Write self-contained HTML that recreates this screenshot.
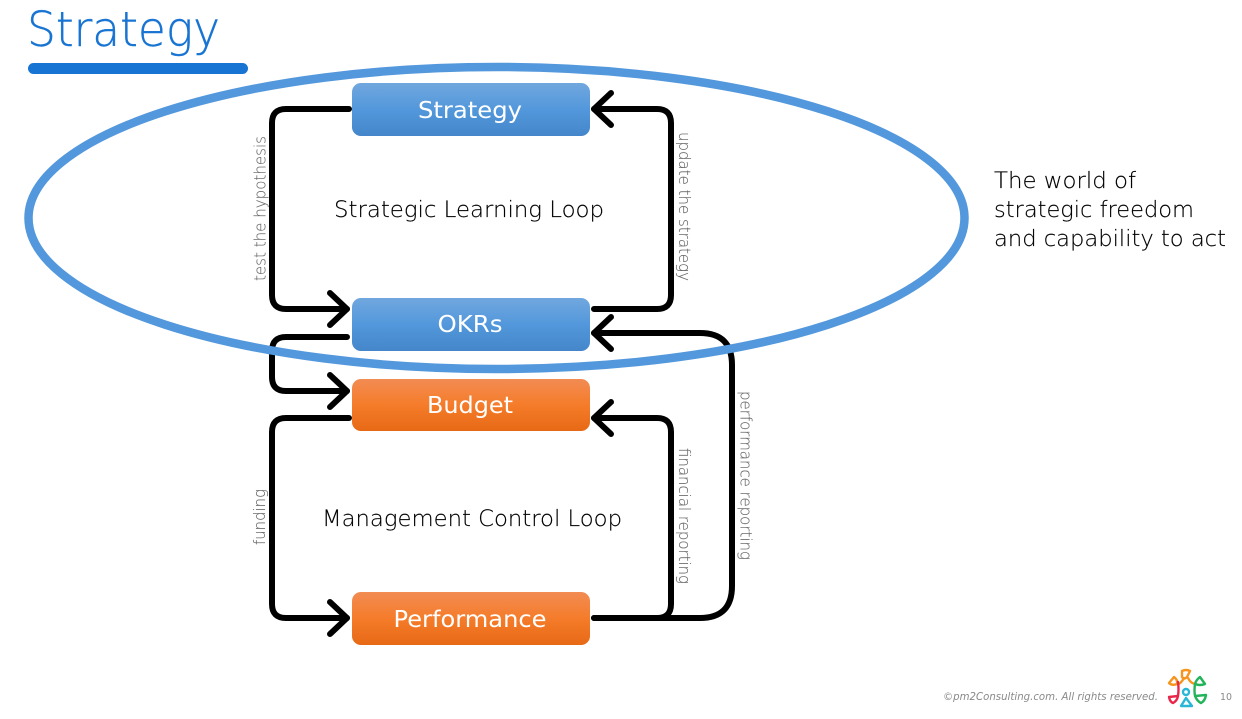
<!DOCTYPE html>
<html>
<head>
<meta charset="utf-8">
<style>
html,body{margin:0;padding:0;background:#fff;width:1242px;height:719px;overflow:hidden}
svg{display:block}
text{font-family:"DejaVu Sans","Liberation Sans",sans-serif}
.c{fill:none;stroke:#000;stroke-width:6;stroke-linecap:round;stroke-linejoin:round}
.b{fill:#fff;font-size:23.500px;text-anchor:middle}
.t{fill:#000;font-size:22.500px;font-weight:200;stroke:#000;stroke-width:.15}
.v{fill:#666;font-size:16px;font-weight:200;stroke:#666;stroke-width:.1}
</style>
</head>
<body>
<svg width="1242" height="719" viewBox="0 0 1242 719" xmlns="http://www.w3.org/2000/svg">
<defs>
<linearGradient id="bl" x1="0" y1="0" x2="0" y2="1">
<stop offset="0" stop-color="#71a7de"/><stop offset=".5" stop-color="#5398dc"/><stop offset="1" stop-color="#4486c9"/>
</linearGradient>
<linearGradient id="or" x1="0" y1="0" x2="0" y2="1">
<stop offset="0" stop-color="#f28c54"/><stop offset=".5" stop-color="#f57c2a"/><stop offset="1" stop-color="#e76916"/>
</linearGradient>
</defs>

<text x="27" y="46" font-size="48" font-weight="200" fill="#1874d2" stroke="#1874d2" stroke-width=".4" textLength="193" lengthAdjust="spacingAndGlyphs">Strategy</text>
<rect x="28" y="63" width="220" height="11" rx="5.500" fill="#1874d2"/>

<rect x="352" y="83" width="238" height="53" rx="9" fill="url(#bl)"/>
<rect x="352" y="298" width="238" height="53" rx="9" fill="url(#bl)"/>
<rect x="352" y="379" width="238" height="52" rx="9" fill="url(#or)"/>
<rect x="352" y="592" width="238" height="53" rx="9" fill="url(#or)"/>

<text class="b" x="470" y="118" textLength="104" lengthAdjust="spacingAndGlyphs">Strategy</text>
<text class="b" x="470" y="332" textLength="65" lengthAdjust="spacingAndGlyphs">OKRs</text>
<text class="b" x="470" y="413" textLength="86" lengthAdjust="spacingAndGlyphs">Budget</text>
<text class="b" x="470" y="627" textLength="153" lengthAdjust="spacingAndGlyphs">Performance</text>

<path class="c" d="M349 109H286Q272 109 272 123V295Q272 309 286 309H347"/>
<path class="c" d="M330 293L347 309L330 325"/>
<path class="c" d="M594 109H657Q671 109 671 123V295Q671 309 657 309H594"/>
<path class="c" d="M611 93L594 109L611 125"/>
<path class="c" d="M347 337H286Q272 337 272 351V377Q272 391 286 391H347"/>
<path class="c" d="M330 375L347 391L330 407"/>
<path class="c" d="M349 418H286Q272 418 272 432V604Q272 618 286 618H347"/>
<path class="c" d="M330 602L347 618L330 634"/>
<path class="c" d="M594 618H657Q671 618 671 604V432Q671 418 657 418H594"/>
<path class="c" d="M611 402L594 418L611 434"/>
<path class="c" d="M594 618H700Q732 618 732 586V365Q732 333 700 333H594"/>
<path class="c" d="M611 317L594 333L611 349"/>

<ellipse cx="496.500" cy="218" rx="468" ry="151" fill="none" stroke="#5398dc" stroke-width="8.500"/>

<text class="t" x="334" y="217" textLength="270" lengthAdjust="spacingAndGlyphs">Strategic Learning Loop</text>
<text class="t" x="322" y="526" textLength="300" lengthAdjust="spacingAndGlyphs">Management Control Loop</text>
<text class="t" x="994" y="188" textLength="142" lengthAdjust="spacingAndGlyphs">The world of</text>
<text class="t" x="994" y="217" textLength="200" lengthAdjust="spacingAndGlyphs">strategic freedom</text>
<text class="t" x="994" y="246" textLength="232" lengthAdjust="spacingAndGlyphs">and capability to act</text>

<text class="v" transform="translate(265.500,281) rotate(-90)" textLength="145" lengthAdjust="spacingAndGlyphs">test the hypothesis</text>
<text class="v" transform="translate(265,545) rotate(-90)" textLength="56" lengthAdjust="spacingAndGlyphs">funding</text>
<text class="v" transform="translate(679,132) rotate(90)" textLength="149" lengthAdjust="spacingAndGlyphs">update the strategy</text>
<text class="v" transform="translate(679,448) rotate(90)" textLength="136" lengthAdjust="spacingAndGlyphs">financial reporting</text>
<text class="v" transform="translate(740.500,391) rotate(90)" textLength="169" lengthAdjust="spacingAndGlyphs">performance reporting</text>

<text x="943" y="700" font-size="11" font-style="italic" fill="#8a8a8a" textLength="215" lengthAdjust="spacingAndGlyphs">©pm2Consulting.com. All rights reserved.</text>
<text x="1220" y="700" font-size="10" fill="#8a8a8a" textLength="12" lengthAdjust="spacingAndGlyphs">10</text>

<g fill="none" stroke-width="2.400" stroke-linecap="round" stroke-linejoin="round">
<path stroke="#f7941e" d="M1182 671Q1186 669 1190 671L1187 677Q1184 680 1182 677Z"/>
<path stroke="#f7941e" d="M1169 683L1174 677Q1178 680 1177 684Q1172 686 1169 683Z"/>
<path stroke="#f7941e" d="M1177 684Q1180 685 1184 678M1188 678Q1191 684 1196 684"/>
<path stroke="#22b45a" d="M1200 677L1205 684Q1200 686 1195 684Q1196 680 1200 677Z"/>
<path stroke="#22b45a" d="M1195 684Q1194 690 1195 696L1206 695Q1205 701 1201 703Q1197 701 1195 696"/>
<path stroke="#e8274b" d="M1178 682Q1179 689 1178 696L1169 697Q1170 702 1173 703Q1177 701 1178 696"/>
<circle cx="1186" cy="692" r="3" stroke="#2ab7d6"/>
<path stroke="#2ab7d6" d="M1186 698L1181 706H1192Z"/>
</g>
</svg>
</body>
</html>
